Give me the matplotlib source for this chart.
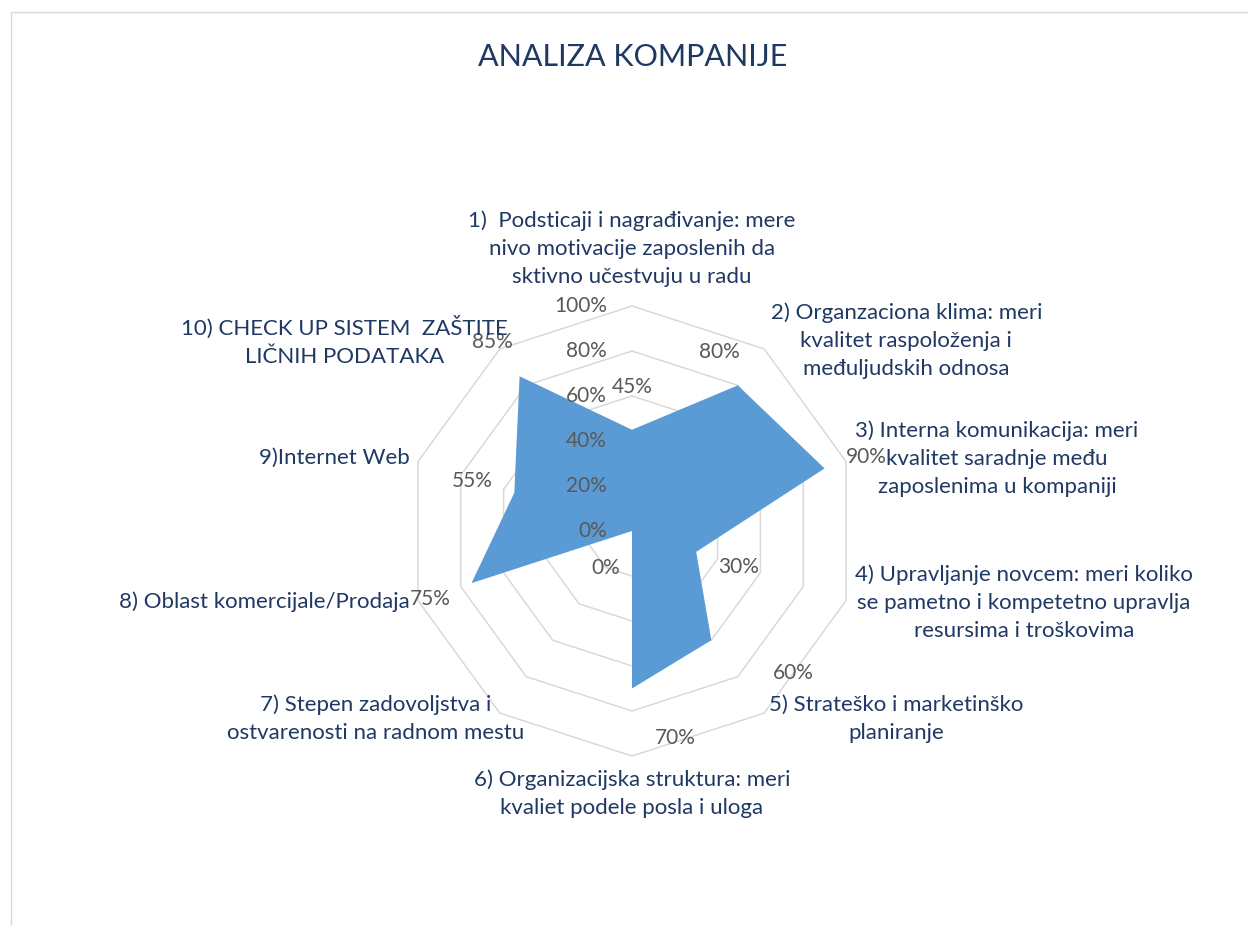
import numpy as np
import matplotlib
matplotlib.use("Agg")
import matplotlib.pyplot as plt
from matplotlib.patches import Rectangle

# ---- data ----
categories = [
    "1)  Podsticaji i nagrađivanje: mere\nnivo motivacije zaposlenih da\nsktivno učestvuju u radu",
    "2) Organzaciona klima: meri\nkvalitet raspoloženja i\nmeđuljudskih odnosa",
    "3) Interna komunikacija: meri\nkvalitet saradnje među\nzaposlenima u kompaniji",
    "4) Upravljanje novcem: meri koliko\nse pametno i kompetetno upravlja\nresursima i troškovima",
    "5) Strateško i marketinško\nplaniranje",
    "6) Organizacijska struktura: meri\nkvaliet podele posla i uloga",
    "7) Stepen zadovoljstva i\nostvarenosti na radnom mestu",
    "8) Oblast komercijale/Prodaja",
    "9)Internet Web",
    "10) CHECK UP SISTEM  ZAŠTITE\nLIČNIH PODATAKA",
]
values = [0.45, 0.80, 0.90, 0.30, 0.60, 0.70, 0.00, 0.75, 0.55, 0.85]
tick_values = [0.0, 0.2, 0.4, 0.6, 0.8, 1.0]
tick_labels = ["0%", "20%", "40%", "60%", "80%", "100%"]
title = "ANALIZA KOMPANIJE"

# ---- layout / style (pixel offsets) ----
value_label_offsets = [(0, 43), (-18, 33), (42, 11), (42, -15), (82, -33),
                       (43, -50), (-26, -37), (-41, -16), (-42, 12), (-27, 34)]
category_label_offsets = [(0, 57), (142, 8), (151, 3), (178, -2), (132, -6),
                          (0, -38), (-124, -6), (-154, -1), (-84, 4), (-155, 8)]

FONT = "Lato"
NAVY = "#1F3864"
GREY = "#595959"
GRID = "#D9D9D9"
FILL = "#5B9BD5"

W_PX, H_PX = 1248, 926
fig = plt.figure(figsize=(W_PX / 100, H_PX / 100), dpi=100)

# chart area border
fig.patches.append(Rectangle((11 / W_PX, -0.1), 1.2, 1 - 12 / H_PX + 0.1,
                             transform=fig.transFigure, fill=False,
                             edgecolor=GRID, lw=1.0))

cx, cy, R = 632, 531, 225
ax = fig.add_axes([(cx - R) / W_PX, (H_PX - cy - R) / H_PX, 2 * R / W_PX, 2 * R / H_PX],
                  projection="polar")
ax.set_theta_zero_location("N")
ax.set_theta_direction(-1)
ax.set_ylim(0, 1)
ax.axis("off")

n = len(values)
theta = np.arange(n) * 2 * np.pi / n
theta_c = np.append(theta, theta[0])

for lvl in tick_values[1:]:
    ax.plot(theta_c, [lvl] * (n + 1), color=GRID, lw=1.1, zorder=1, clip_on=False)

ax.fill(theta_c, np.append(values, values[0]), color=FILL, lw=0, zorder=2, clip_on=False)

for lvl, lab in zip(tick_values, tick_labels):
    ax.annotate(lab, xy=(0, lvl), xytext=(-25, 0), textcoords="offset pixels",
                ha="right", va="center", color=GREY, fontsize=15, family=FONT,
                zorder=4, annotation_clip=False)

for t, v, (dx, dy) in zip(theta, values, value_label_offsets):
    ax.annotate(f"{round(v * 100)}%", xy=(t, v), xytext=(dx, dy), textcoords="offset pixels",
                ha="center", va="center", color=GREY, fontsize=15, family=FONT,
                zorder=4, annotation_clip=False)

for t, lab, (dx, dy) in zip(theta, categories, category_label_offsets):
    ax.annotate(lab, xy=(t, 1.0), xytext=(dx, dy), textcoords="offset pixels",
                ha="center", va="center", multialignment="center", color=NAVY,
                fontsize=16, family=FONT, linespacing=1.5, zorder=4,
                annotation_clip=False)

fig.text(633 / W_PX, 1 - 57 / H_PX, title, ha="center", va="center",
         color=NAVY, fontsize=22, family=FONT)

fig.savefig("out.png", dpi=100)
